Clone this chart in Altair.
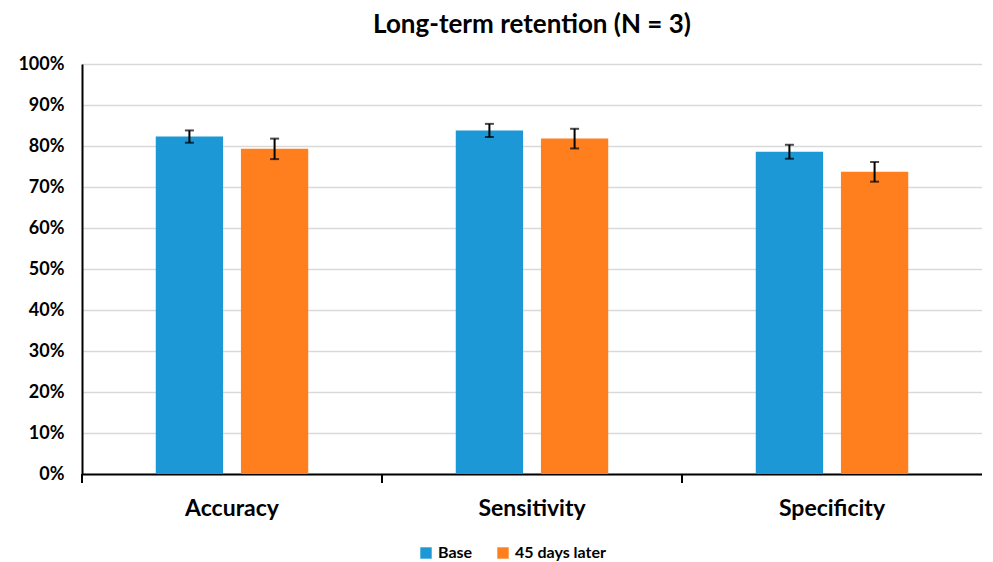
import altair as alt
import pandas as pd

categories = ["Accuracy", "Sensitivity", "Specificity"]
series = ["Base", "45 days later"]
base_vals = [0.823, 0.838, 0.786]
later_vals = [0.793, 0.818, 0.737]
base_err = [0.015, 0.016, 0.017]
later_err = [0.025, 0.024, 0.024]
colors = ["#1B98D5", "#FF7F1F"]
y_ticks = [i / 10 for i in range(11)]

rows = []
for c, v, e in zip(categories, base_vals, base_err):
    rows.append({"cat": c, "series": "Base", "val": v, "lo": v - e, "hi": v + e})
for c, v, e in zip(categories, later_vals, later_err):
    rows.append({"cat": c, "series": "45 days later", "val": v, "lo": v - e, "hi": v + e})
df = pd.DataFrame(rows)

FONT = "Lato"
W, H = 900, 410

xenc = alt.X("cat:N", sort=categories, title=None,
             scale=alt.Scale(paddingInner=0, paddingOuter=0),
             axis=alt.Axis(labelFont=FONT, labelFontSize=23, labelFontWeight="bold",
                           labelColor="black", labelPadding=23, ticks=False,
                           domainColor="black", domainWidth=2, labelAngle=0))
xoff = alt.XOffset("series:N", sort=series,
                   scale=alt.Scale(paddingInner=0.21, paddingOuter=0.866))

base = alt.Chart(df)

bars = base.mark_bar().encode(
    x=xenc,
    xOffset=xoff,
    y=alt.Y("val:Q", title=None,
            scale=alt.Scale(domain=[0, 1], nice=False),
            axis=alt.Axis(values=y_ticks, format=".0%", labelFont=FONT, labelFontSize=18,
                          labelFontWeight="bold", labelColor="black", labelPadding=18,
                          ticks=False, domainColor="black", domainWidth=2,
                          gridColor="#d9d9d9", gridWidth=1.5)),
    color=alt.Color("series:N", sort=series,
                    scale=alt.Scale(domain=series, range=colors),
                    legend=alt.Legend(title=None, orient="none", direction="horizontal",
                                      legendX=336, legendY=481,
                                      symbolType="square", symbolSize=130,
                                      symbolStrokeWidth=0,
                                      labelFont=FONT, labelFontSize=16,
                                      labelFontWeight="bold", labelColor="black",
                                      columnPadding=22)),
)

err_rule = base.mark_rule(color="black", strokeWidth=2).encode(
    x=alt.X("cat:N", sort=categories),
    xOffset=xoff,
    y="lo:Q",
    y2="hi:Q",
)
cap_lo = base.mark_tick(color="black", thickness=2, size=9).encode(
    x=alt.X("cat:N", sort=categories),
    xOffset=xoff,
    y="lo:Q",
)
cap_hi = base.mark_tick(color="black", thickness=2, size=9).encode(
    x=alt.X("cat:N", sort=categories),
    xOffset=xoff,
    y="hi:Q",
)

tick_df = pd.DataFrame({"cat": categories})
xticks = alt.Chart(tick_df).mark_rule(color="black", strokeWidth=2).encode(
    x=alt.X("cat:N", sort=categories, bandPosition=0),
    y=alt.value(H),
    y2=alt.value(H + 9),
)

chart = alt.layer(bars, err_rule, cap_lo, cap_hi, xticks).properties(
    width=W, height=H,
    title=alt.Title("Long-term retention (N = 3)", font=FONT, fontSize=26,
                    fontWeight="bold", color="black", offset=17, anchor="middle"),
    padding={"left": 9, "top": 4, "right": 0, "bottom": 0},
).configure_view(stroke=None).configure_axisX(grid=False)

chart.save("out.html", embed_options={"renderer": "svg", "actions": False})
